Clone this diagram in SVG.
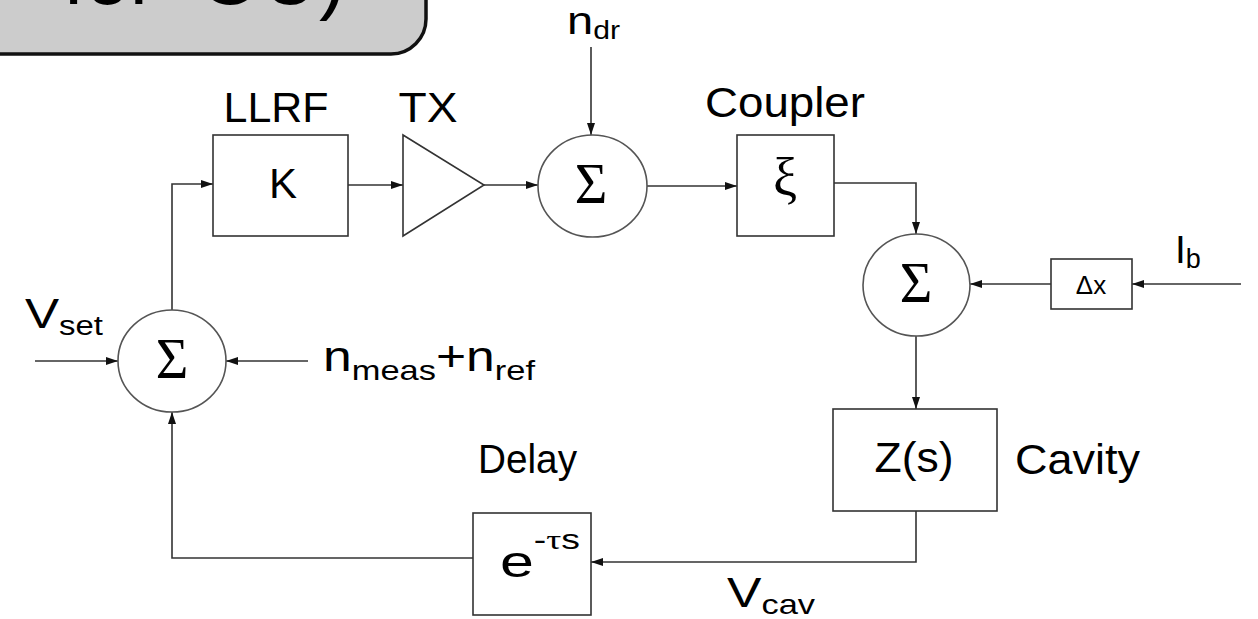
<svg xmlns="http://www.w3.org/2000/svg" width="1258" height="619" viewBox="0 0 1258 619">
<style>
.bx{fill:#fff;stroke:#333;stroke-width:1.6}
.cr{fill:#fff;stroke:#555;stroke-width:1.6}
.ln{fill:none;stroke:#333;stroke-width:1.6}
.t{font-family:"Liberation Sans",Arial,sans-serif;fill:#000}
.s{font-family:"Liberation Serif","Times New Roman",serif;fill:#000}
</style>
<defs>
<marker id="ar" viewBox="0 0 12 8" refX="12" refY="4" markerWidth="12" markerHeight="8" markerUnits="userSpaceOnUse" orient="auto">
<path d="M0,0 L12,4 L0,8 Z" fill="#111"/>
</marker>
</defs>
<rect width="1258" height="619" fill="#fff"/>
<g id="title-box">
<path d="M-10,-10 H426 V19 A35,35 0 0 1 391,54 H-10 Z" fill="#cccccc" stroke="#111" stroke-width="3.5"/>
<text class="t" font-size="80" y="4" fill="#111"><tspan x="63">for</tspan><tspan x="199">OU)</tspan></text>
</g>
<g id="connectors">
<path class="ln" d="M172,310 V184 H213" marker-end="url(#ar)"/>
<path class="ln" d="M348,185 H403" marker-end="url(#ar)"/>
<path class="ln" d="M484,185 H538" marker-end="url(#ar)"/>
<path class="ln" d="M591,47 V135" marker-end="url(#ar)"/>
<path class="ln" d="M647,186 H737" marker-end="url(#ar)"/>
<path class="ln" d="M834,183 H916 V234" marker-end="url(#ar)"/>
<path class="ln" d="M1241,284 H1132" marker-end="url(#ar)"/>
<path class="ln" d="M1051,284 H970" marker-end="url(#ar)"/>
<path class="ln" d="M916,336 V409" marker-end="url(#ar)"/>
<path class="ln" d="M916,511 V562 H591" marker-end="url(#ar)"/>
<path class="ln" d="M473,558 H172 V412" marker-end="url(#ar)"/>
<path class="ln" d="M35,361 H118" marker-end="url(#ar)"/>
<path class="ln" d="M308,361 H226" marker-end="url(#ar)"/>
</g>
<g id="llrf">
<rect class="bx" x="213" y="135" width="135" height="101"/>
<text class="t" font-size="42" x="276" y="122" text-anchor="middle" textLength="105" lengthAdjust="spacingAndGlyphs">LLRF</text>
<text class="t" font-size="42" x="283" y="198" text-anchor="middle">K</text>
</g>
<g id="tx">
<path class="bx" d="M403,135 L484,185 L403,236 Z"/>
<text class="t" font-size="42" x="428" y="122" text-anchor="middle" textLength="59" lengthAdjust="spacingAndGlyphs">TX</text>
</g>
<g id="sum-drive">
<ellipse class="cr" cx="592.5" cy="186" rx="54.5" ry="51"/>
<text class="s" font-size="56" x="591" y="203" text-anchor="middle">Σ</text>
<text class="t" font-size="39" x="567" y="34" textLength="53" lengthAdjust="spacingAndGlyphs">n<tspan font-size="25" y="39">dr</tspan></text>
</g>
<g id="coupler">
<rect class="bx" x="737" y="135" width="97" height="101"/>
<text class="t" font-size="42" x="705" y="117" textLength="160" lengthAdjust="spacingAndGlyphs">Coupler</text>
<text class="s" font-size="54" x="785" y="196" text-anchor="middle">ξ</text>
</g>
<g id="sum-beam">
<ellipse class="cr" cx="916.5" cy="285" rx="53.5" ry="51"/>
<text class="s" font-size="56" x="916" y="302" text-anchor="middle">Σ</text>
</g>
<g id="dx">
<rect class="bx" x="1051" y="259" width="81" height="50"/>
<text class="t" font-size="26" x="1091" y="294" text-anchor="middle">Δx</text>
<text class="t" font-size="39" x="1175" y="263">I<tspan font-size="27" y="268">b</tspan></text>
</g>
<g id="sum-main">
<ellipse class="cr" cx="172" cy="361" rx="54" ry="51"/>
<text class="s" font-size="56" x="172" y="378" text-anchor="middle">Σ</text>
<text class="t" font-size="42" x="25" y="328" textLength="78" lengthAdjust="spacingAndGlyphs">V<tspan font-size="27" y="335">set</tspan></text>
<text class="t" font-size="42" x="323" y="371" textLength="212" lengthAdjust="spacingAndGlyphs">n<tspan font-size="28" y="380">meas</tspan><tspan y="371">+n</tspan><tspan font-size="28" y="380">ref</tspan></text>
</g>
<g id="cavity">
<rect class="bx" x="833" y="409" width="164" height="102"/>
<text class="t" font-size="42" x="914" y="472" text-anchor="middle" textLength="79" lengthAdjust="spacingAndGlyphs">Z(s)</text>
<text class="t" font-size="42" x="1015" y="474" textLength="125" lengthAdjust="spacingAndGlyphs">Cavity</text>
</g>
<g id="delay">
<rect class="bx" x="473" y="513" width="118" height="102"/>
<text class="t" font-size="40" x="478" y="473" textLength="99" lengthAdjust="spacingAndGlyphs">Delay</text>
<text class="t" font-size="44" x="500" y="577" textLength="80" lengthAdjust="spacingAndGlyphs">e<tspan font-size="27" y="549">-<tspan class="s">τ</tspan>s</tspan></text>
</g>
<g id="vcav-label">
<text class="t" font-size="42" x="727" y="607" textLength="88" lengthAdjust="spacingAndGlyphs">V<tspan font-size="28" y="614">cav</tspan></text>
</g>
</svg>
